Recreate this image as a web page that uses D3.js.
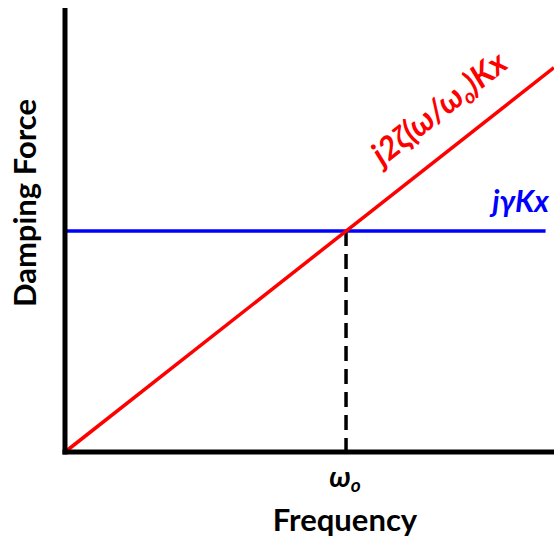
<!DOCTYPE html>
<html>
<head>
<meta charset="utf-8">
<script src="https://cdn.jsdelivr.net/npm/d3@7"></script>
<style>
  body { margin: 0; background: #fff; }
  svg { display: block; }
  text { font-family: Lato, "Open Sans", sans-serif; font-weight: bold; }
</style>
</head>
<body>
<svg width="554" height="539"></svg>
<script>
// Frequency in units of ω0, force in units of γKx
const xDomain = [0, 1.74];
const yDomain = [0, 2.01];
const omega0 = 1;
const gammaLevel = 1;
const viscousLine = [[0, 0], [1.74, 1.74]];      // j2ζ(ω/ω0)Kx
const hystereticLine = [[0, 1], [1.71, 1]];      // jγKx

const svg = d3.select('svg');

const x = d3.scaleLinear().domain(xDomain).range([65, 554]);
const y = d3.scaleLinear().domain(yDomain).range([452, 8]);

const line = d3.line().x(d => x(d[0])).y(d => y(d[1]));

// Dashed marker at ω0
svg.append('line')
    .attr('x1', x(omega0)).attr('x2', x(omega0))
    .attr('y1', y(gammaLevel)).attr('y2', y(0))
    .attr('stroke', '#000')
    .attr('stroke-width', 3.5)
    .attr('stroke-dasharray', '15,8');

// Blue constant line
svg.append('path')
    .datum(hystereticLine)
    .attr('d', line)
    .attr('fill', 'none')
    .attr('stroke', '#0000ff')
    .attr('stroke-width', 3.5);

// Red proportional line
svg.append('path')
    .datum(viscousLine)
    .attr('d', line)
    .attr('fill', 'none')
    .attr('stroke', '#ff0000')
    .attr('stroke-width', 3.5);

// Axes (no ticks)
svg.append('g')
    .attr('transform', `translate(0,${y(0)})`)
    .call(d3.axisBottom(x).tickValues([]).tickSizeOuter(0))
    .select('.domain').attr('stroke-width', 5).attr('d', `M${x(0) - 2.5},0H554`);

svg.append('g')
    .attr('transform', `translate(${x(0)},0)`)
    .call(d3.axisLeft(y).tickValues([]).tickSizeOuter(0))
    .select('.domain').attr('stroke-width', 5).attr('d', `M0,${y(yDomain[1])}V${y(0) + 2.5}`);

// Axis titles
svg.append('text')
    .attr('x', 345).attr('y', 531)
    .attr('text-anchor', 'middle')
    .attr('font-size', 31)
    .text('Frequency');

svg.append('text')
    .attr('transform', 'translate(36,203) rotate(-90)')
    .attr('text-anchor', 'middle')
    .attr('font-size', 31)
    .text('Damping Force');

// ω0 tick label
const w0 = svg.append('text')
    .attr('x', x(omega0) - 1).attr('y', 487)
    .attr('text-anchor', 'middle')
    .attr('font-size', 29)
    .attr('font-style', 'italic');
w0.append('tspan').text('ω');
w0.append('tspan').attr('font-size', 19).attr('dy', 5).text('o');

// Line labels
svg.append('text')
    .attr('x', 549).attr('y', 212)
    .attr('text-anchor', 'end')
    .attr('font-size', 30)
    .attr('font-style', 'italic')
    .attr('fill', '#0000ff')
    .text('jγKx');

const angle = Math.atan2(y(0) - y(1), x(1) - x(0)) * 180 / Math.PI;
const red = svg.append('text')
    .attr('transform', `translate(446,117) rotate(${-angle})`)
    .attr('text-anchor', 'middle')
    .attr('font-size', 32)
    .attr('font-style', 'italic')
    .attr('fill', '#ff0000');
red.append('tspan').text('j2ζ(ω/ω');
red.append('tspan').attr('font-size', 20).attr('dy', 5).text('o');
red.append('tspan').attr('dy', -5).text(')Kx');
</script>
</body>
</html>
